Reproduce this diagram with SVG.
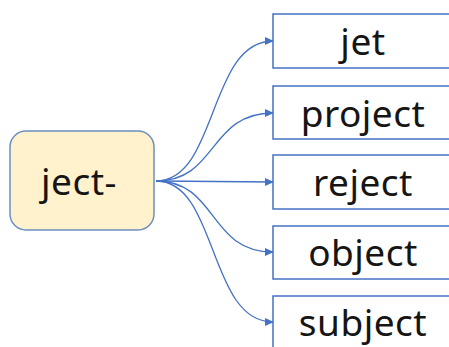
<svg xmlns="http://www.w3.org/2000/svg" width="449" height="347" viewBox="0 0 449 347">
<defs>
<style>
.t{font-family:"Noto Sans","Open Sans","Liberation Sans",sans-serif;font-size:37px;letter-spacing:0.5px;fill:#151515;text-anchor:middle;dominant-baseline:central}
.box{fill:#fff;stroke:#4472c4;stroke-width:1.5}
.c{fill:none;stroke:#4472c4;stroke-width:1.3;marker-end:url(#ah)}
</style>
<marker id="ah" viewBox="0 0 10 10" refX="9" refY="5" markerWidth="9" markerHeight="9" markerUnits="userSpaceOnUse" orient="auto">
<path d="M0,0.5 L10,5 L0,9.5 z" fill="#4472c4"/>
</marker>
</defs>
<rect width="449" height="347" fill="#fff"/>
<g id="connectors">
<path class="c" d="M156,181 C218,181 208,41 273,41"/>
<path class="c" d="M156,181 C218,181 208,113 273,113"/>
<path class="c" d="M156,181 L273,182"/>
<path class="c" d="M156,181 C218,181 208,252 273,252"/>
<path class="c" d="M156,181 C218,181 208,322 273,322"/>
</g>
<g id="root">
<rect x="10" y="131" width="144" height="99" rx="16" fill="#fff2cc" stroke="#6c8ebf" stroke-width="1.5"/>
<text class="t" x="79" y="180">ject-</text>
</g>
<g id="n-jet"><rect class="box" x="273" y="14" width="190" height="54"/><text class="t" x="363" y="40">jet</text></g>
<g id="n-project"><rect class="box" x="273" y="86" width="190" height="53"/><text class="t" x="363" y="112">project</text></g>
<g id="n-reject"><rect class="box" x="273" y="155" width="190" height="54"/><text class="t" x="363" y="181">reject</text></g>
<g id="n-object"><rect class="box" x="273" y="226" width="190" height="53"/><text class="t" x="363" y="251">object</text></g>
<g id="n-subject"><rect class="box" x="273" y="296" width="190" height="60"/><text class="t" x="363" y="321">subject</text></g>
</svg>
